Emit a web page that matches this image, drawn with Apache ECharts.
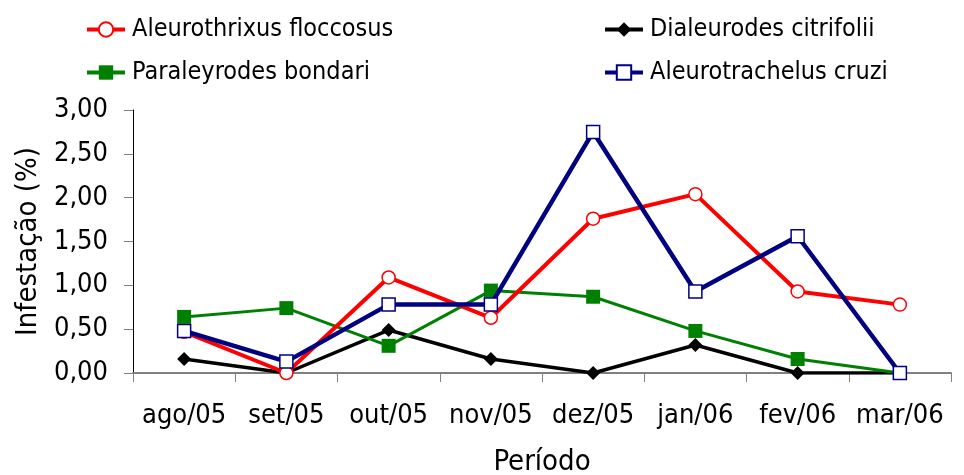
<!DOCTYPE html>
<html>
<head>
<meta charset="utf-8">
<script src="https://cdn.jsdelivr.net/npm/echarts@6/dist/echarts.min.js"></script>
<style>
  html, body { margin: 0; padding: 0; background: #fff; }
  #chart { width: 964px; height: 475px; }
</style>
</head>
<body>
<div id="chart"></div>
<script>
const periodos = ["ago/05", "set/05", "out/05", "nov/05", "dez/05", "jan/06", "fev/06", "mar/06"];
const aleurothrixus = [0.47, 0, 1.09, 0.63, 1.76, 2.04, 0.93, 0.78];
const dialeurodes = [0.16, 0, 0.49, 0.16, 0, 0.32, 0, 0];
const paraleyrodes = [0.64, 0.74, 0.31, 0.94, 0.87, 0.48, 0.16, 0];
const aleurotrachelus = [0.48, 0.13, 0.78, 0.78, 2.75, 0.93, 1.56, 0];

const fonte = "DejaVu Sans Condensed";
const chart = echarts.init(document.getElementById("chart"));

const legendBase = {
  orient: "vertical",
  itemWidth: 38,
  itemHeight: 18,
  itemGap: 18,
  selectedMode: false,
  lineStyle: { width: 4 },
  textStyle: { fontFamily: fonte, fontSize: 25, color: "#000", padding: [0, 0, 0, 2] },
};

chart.setOption({
  animation: false,
  legend: [
    Object.assign({ left: 80, top: 12, data: ["Aleurothrixus floccosus", "Paraleyrodes bondari"] }, legendBase),
    Object.assign({ left: 598, top: 12, data: ["Dialeurodes citrifolii", "Aleurotrachelus cruzi"] }, legendBase),
  ],
  grid: { left: 133, right: 13, top: 110, bottom: 102, outerBoundsMode: "none" },
  xAxis: {
    type: "category",
    data: periodos,
    name: "Período",
    nameLocation: "middle",
    nameGap: 75,
    nameTextStyle: { fontFamily: fonte, fontSize: 29, color: "#000" },
    axisLine: { lineStyle: { color: "#808080", width: 2 } },
    axisTick: { show: true, length: 9, lineStyle: { color: "#808080", width: 1 } },
    axisLabel: { fontFamily: fonte, fontSize: 27, color: "#000", margin: 29, interval: 0 },
  },
  yAxis: {
    type: "value",
    min: 0,
    max: 3,
    interval: 0.5,
    name: "Infestação (%)",
    nameLocation: "middle",
    nameGap: 89,
    nameTextStyle: { fontFamily: fonte, fontSize: 29, color: "#000" },
    axisLine: { show: true, lineStyle: { color: "#000", width: 1 } },
    axisTick: { show: true, length: 9, lineStyle: { color: "#808080" } },
    splitLine: { show: false },
    axisLabel: {
      fontFamily: fonte,
      fontSize: 27,
      color: "#000",
      margin: 25,
      formatter: (v) => v.toFixed(2).replace(".", ","),
    },
  },
  series: [
    {
      name: "Aleurothrixus floccosus",
      type: "line",
      data: aleurothrixus,
      symbol: "circle",
      symbolSize: 13,
      lineStyle: { color: "#ff0000", width: 4 },
      itemStyle: { color: "#fff", borderColor: "#ff0000", borderWidth: 1.5 },
      z: 4,
    },
    {
      name: "Dialeurodes citrifolii",
      type: "line",
      data: dialeurodes,
      symbol: "diamond",
      symbolSize: 14,
      lineStyle: { color: "#000", width: 3.5 },
      itemStyle: { color: "#000" },
      z: 2,
    },
    {
      name: "Paraleyrodes bondari",
      type: "line",
      data: paraleyrodes,
      symbol: "rect",
      symbolSize: 14,
      lineStyle: { color: "#008000", width: 3 },
      itemStyle: { color: "#008000" },
      z: 3,
    },
    {
      name: "Aleurotrachelus cruzi",
      type: "line",
      data: aleurotrachelus,
      symbol: "rect",
      symbolSize: 13,
      lineStyle: { color: "#000080", width: 4.5 },
      itemStyle: { color: "#fff", borderColor: "#000080", borderWidth: 1.5 },
      z: 5,
    },
  ],
});
</script>
</body>
</html>
